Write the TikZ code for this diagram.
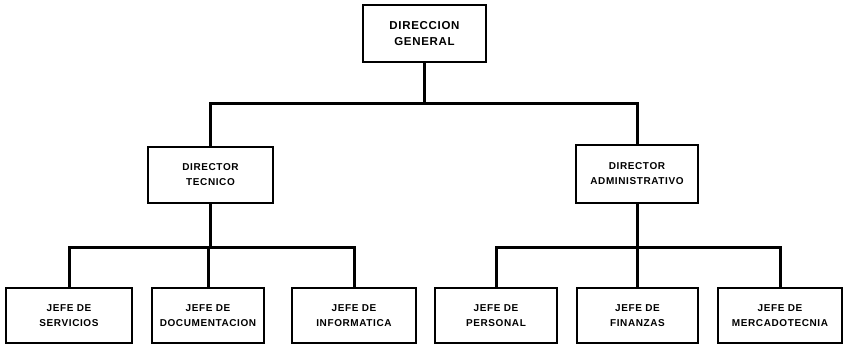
\documentclass[tikz,border=0pt]{standalone}
\usepackage{fontspec}
\setmainfont{Liberation Sans}[LetterSpace=6]
\begin{document}
\begin{tikzpicture}[x=1pt,y=1pt,
  cargo/.style={draw,line width=1.2pt,align=center,inner sep=0pt,
    font=\bfseries\fontsize{10}{15}\selectfont},
  enlace/.style={line width=3pt}]
\useasboundingbox (0,0) rectangle (844,346);
% direccion
\node[cargo,minimum width=123,minimum height=57,
  font=\bfseries\fontsize{11.5}{16}\selectfont] (gen) at (424.5,312.5) {DIRECCION\\GENERAL};
% directores
\node[cargo,minimum width=125,minimum height=56] (tec) at (210.5,171) {DIRECTOR\\TECNICO};
\node[cargo,minimum width=122,minimum height=58] (adm) at (637,172) {DIRECTOR\\ADMINISTRATIVO};
% jefes
\node[cargo,minimum width=126,minimum height=55] (serv) at (69,30.5) {JEFE DE\\SERVICIOS};
\node[cargo,minimum width=112,minimum height=55] (doc) at (208,30.5) {JEFE DE\\DOCUMENTACION};
\node[cargo,minimum width=124,minimum height=55] (inf) at (354,30.5) {JEFE DE\\INFORMATICA};
\node[cargo,minimum width=122,minimum height=55] (pers) at (496,30.5) {JEFE DE\\PERSONAL};
\node[cargo,minimum width=121,minimum height=55] (fin) at (637.5,30.5) {JEFE DE\\FINANZAS};
\node[cargo,minimum width=124,minimum height=55] (merc) at (780,30.5) {JEFE DE\\MERCADOTECNIA};
% enlaces
\coordinate (barra) at (424.5,242);
\coordinate (bartec) at (210.5,99);
\coordinate (baradm) at (637,99);
\draw[enlace] (gen.south) -- (barra);
\draw[enlace] (barra) -| (tec.north);
\draw[enlace] (barra) -| (adm.north);
\draw[enlace] (tec.south) -- (bartec);
\draw[enlace] (adm.south) -- (baradm);
\foreach \j in {serv,doc,inf}
  \draw[enlace] (bartec) -| (\j.north);
\foreach \j in {pers,fin,merc}
  \draw[enlace] (baradm) -| (\j.north);
\end{tikzpicture}
\end{document}
